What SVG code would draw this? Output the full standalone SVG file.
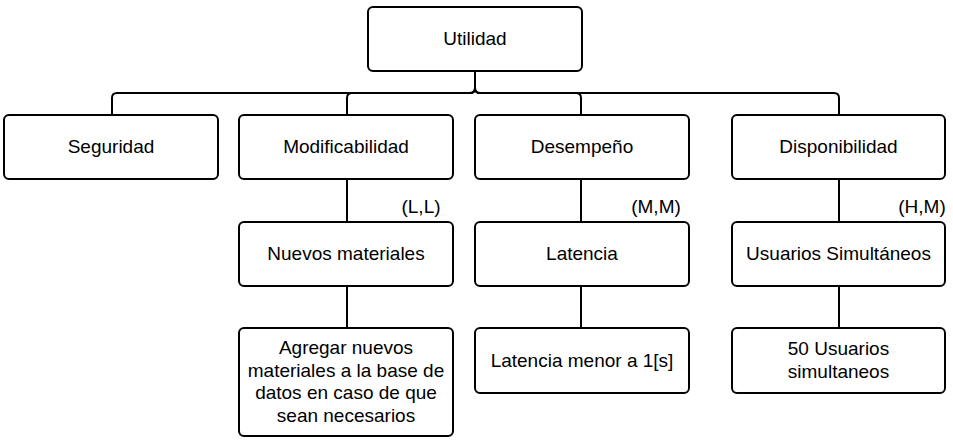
<svg xmlns="http://www.w3.org/2000/svg" width="953" height="442" viewBox="0 0 953 442">
<style>
.box{fill:#fff;stroke:#000;stroke-width:2}
.t{font-family:"Liberation Sans",Arial,sans-serif;font-size:19px;fill:#000;text-anchor:middle}
.c{fill:none;stroke:#000;stroke-width:2}
</style>
<rect width="953" height="442" fill="#fff"/>
<g id="connectors">
<path class="c" d="M475 71 V88 Q475 93 470 93 H117 Q112 93 112 98 V115"/>
<path class="c" d="M475 71 V88 Q475 93 470 93 H352 Q347 93 347 98 V115"/>
<path class="c" d="M475 71 V88 Q475 93 480 93 H576 Q581 93 581 98 V115"/>
<path class="c" d="M475 71 V88 Q475 93 480 93 H834 Q839 93 839 98 V115"/>
<path class="c" d="M347 179 V222 M347 286 V328 M581 179 V222 M581 286 V328 M839 179 V222 M839 286 V328"/>
<text class="t" x="421" y="213">(L,L)</text>
<text class="t" x="656" y="213">(M,M)</text>
<text class="t" x="922" y="213">(H,M)</text>
</g>
<g id="utilidad"><rect class="box" x="368" y="7" width="214" height="64" rx="5"/><text class="t" x="475" y="45">Utilidad</text></g>
<g id="seguridad"><rect class="box" x="4" y="115" width="214" height="64" rx="5"/><text class="t" x="111" y="153">Seguridad</text></g>
<g id="modificabilidad"><rect class="box" x="239" y="115" width="214" height="64" rx="5"/><text class="t" x="346" y="153">Modificabilidad</text></g>
<g id="desempeno"><rect class="box" x="475" y="115" width="214" height="64" rx="5"/><text class="t" x="582" y="153">Desempeño</text></g>
<g id="disponibilidad"><rect class="box" x="732" y="115" width="213" height="64" rx="5"/><text class="t" x="838.5" y="153">Disponibilidad</text></g>
<g id="nuevos-materiales"><rect class="box" x="239" y="222" width="214" height="64" rx="5"/><text class="t" x="346" y="260">Nuevos materiales</text></g>
<g id="latencia"><rect class="box" x="475" y="222" width="214" height="64" rx="5"/><text class="t" x="582" y="260">Latencia</text></g>
<g id="usuarios-simultaneos"><rect class="box" x="732" y="222" width="213" height="64" rx="5"/><text class="t" x="838.5" y="260">Usuarios Simultáneos</text></g>
<g id="agregar"><rect class="box" x="239" y="328" width="214" height="108" rx="5"/><text class="t" x="346" y="354">Agregar nuevos<tspan x="346" dy="22.7">materiales a la base de</tspan><tspan x="346" dy="22.7">datos en caso de que</tspan><tspan x="346" dy="22.7">sean necesarios</tspan></text></g>
<g id="latencia-menor"><rect class="box" x="475" y="328" width="214" height="65" rx="5"/><text class="t" x="582" y="367">Latencia menor a 1[s]</text></g>
<g id="cincuenta-usuarios"><rect class="box" x="732" y="328" width="213" height="65" rx="5"/><text class="t" x="838.5" y="355">50 Usuarios<tspan x="838.5" dy="22.7">simultaneos</tspan></text></g>
</svg>
